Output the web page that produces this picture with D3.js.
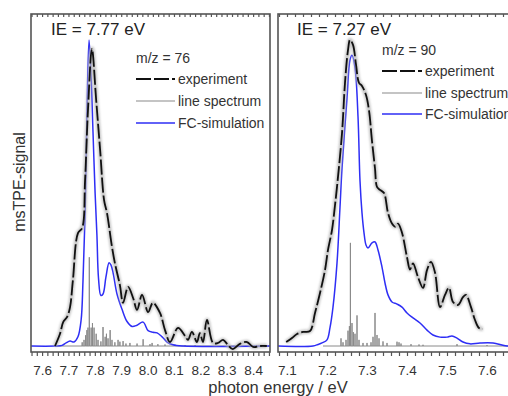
<!DOCTYPE html>
<html>
<head>
<meta charset="utf-8">
<script src="https://cdn.jsdelivr.net/npm/d3@7"></script>
<style>
  html, body { margin: 0; padding: 0; background: #fff; }
  svg { display: block; font-family: "Liberation Sans", Arial, sans-serif; }
</style>
</head>
<body>
<svg id="chart" width="508" height="396"></svg>
<script>
// ---- data: m/z = 76 (left panel) ----
const ie76 = "IE = 7.77 eV";
const mz76 = "m/z = 76";
const ticks76 = [7.6, 7.7, 7.8, 7.9, 8.0, 8.1, 8.2, 8.3, 8.4];
const exp76 = [
  [7.649, 0], [7.668, 0.04], [7.680, 0.078], [7.695, 0.095], [7.706, 0.127],
  [7.717, 0.216], [7.736, 0.369], [7.752, 0.386], [7.763, 0.542], [7.774, 0.771],
  [7.789, 0.971], [7.805, 0.804], [7.820, 0.641], [7.835, 0.477], [7.846, 0.435],
  [7.865, 0.324], [7.876, 0.271], [7.895, 0.199], [7.907, 0.141], [7.926, 0.193],
  [7.945, 0.157], [7.960, 0.118], [7.979, 0.167], [8.002, 0.111], [8.020, 0.141],
  [8.047, 0.108], [8.066, 0.052], [8.085, 0.013], [8.115, 0.059], [8.142, 0.033],
  [8.153, 0.020], [8.168, 0.046], [8.187, 0.013], [8.198, 0.042], [8.210, 0.013],
  [8.225, 0.085], [8.248, 0.010], [8.267, 0.010], [8.286, 0.020], [8.305, 0.003],
  [8.323, -0.010], [8.350, 0.007], [8.377, 0.013], [8.400, -0.003], [8.426, 0],
  [8.452, 0]
];
const fc76 = [
  [7.55, 0], [7.649, 0], [7.676, 0.002], [7.691, 0.01], [7.706, 0.016], [7.721, 0.013],
  [7.736, 0.03], [7.748, 0.085], [7.755, 0.21], [7.763, 0.43], [7.770, 0.75],
  [7.778, 1.0], [7.786, 0.88], [7.793, 0.70], [7.801, 0.50], [7.808, 0.36],
  [7.814, 0.22], [7.823, 0.165], [7.831, 0.17], [7.842, 0.225], [7.854, 0.272],
  [7.861, 0.265], [7.869, 0.24], [7.884, 0.17], [7.903, 0.12], [7.922, 0.08],
  [7.941, 0.064], [7.960, 0.068], [7.983, 0.078], [8.002, 0.05], [8.020, 0.045],
  [8.036, 0.043], [8.055, 0.03], [8.074, 0.013], [8.096, 0.004], [8.134, 0],
  [8.47, 0]
];
const sticks76 = [
  [7.752, 0.012], [7.759, 0.02], [7.765, 0.035], [7.770, 0.052], [7.774, 0.06],
  [7.779, 0.29], [7.786, 0.06], [7.791, 0.075], [7.797, 0.06], [7.805, 0.04],
  [7.812, 0.02], [7.823, 0.015], [7.831, 0.062], [7.839, 0.03], [7.844, 0.04],
  [7.850, 0.025], [7.858, 0.052], [7.865, 0.02], [7.876, 0.012], [7.888, 0.02],
  [7.895, 0.014], [7.907, 0.016], [7.918, 0.008], [7.933, 0.01], [7.960, 0.008],
  [7.983, 0.022], [8.009, 0.006], [8.017, 0.01], [8.039, 0.006], [8.066, 0.005],
  [8.104, 0.004], [8.142, 0.003], [8.180, 0.003]
];
const span76 = [7.65, 8.47];

// ---- data: m/z = 90 (right panel) ----
const ie90 = "IE = 7.27 eV";
const mz90 = "m/z = 90";
const ticks90 = [7.1, 7.2, 7.3, 7.4, 7.5, 7.6];
const exp90 = [
  [7.098, 0.013], [7.1125, 0.026], [7.125, 0.039], [7.14, 0.046], [7.1575, 0.049],
  [7.17, 0.108], [7.1825, 0.173], [7.195, 0.248], [7.2025, 0.314], [7.2125, 0.379],
  [7.22, 0.46], [7.225, 0.52], [7.2375, 0.695], [7.245, 0.86], [7.2525, 0.967],
  [7.2575, 1.0], [7.265, 0.984], [7.2725, 0.92], [7.28, 0.86], [7.2875, 0.85],
  [7.2975, 0.82], [7.305, 0.77], [7.3125, 0.67], [7.32, 0.58], [7.325, 0.52],
  [7.3325, 0.51], [7.3425, 0.50], [7.3525, 0.435], [7.3625, 0.40], [7.37, 0.39],
  [7.3775, 0.40], [7.3875, 0.37], [7.40, 0.29], [7.4075, 0.25], [7.415, 0.27],
  [7.4275, 0.225], [7.44, 0.19], [7.45, 0.248], [7.46, 0.275], [7.47, 0.24],
  [7.4825, 0.127], [7.495, 0.167], [7.505, 0.19], [7.515, 0.144], [7.5275, 0.134],
  [7.54, 0.16], [7.5475, 0.167], [7.56, 0.127], [7.57, 0.085], [7.58, 0.059],
  [7.59, 0.056]
];
const fc90 = [
  [7.07, 0], [7.165, 0], [7.1775, 0.005], [7.1875, 0.01], [7.20, 0.02], [7.2075, 0.06],
  [7.215, 0.127], [7.225, 0.271], [7.2325, 0.454], [7.2375, 0.58], [7.25, 0.81],
  [7.2575, 0.935], [7.2625, 0.95], [7.27, 0.91], [7.2775, 0.75], [7.2825, 0.54],
  [7.2875, 0.435], [7.2925, 0.37], [7.2975, 0.33], [7.3025, 0.32], [7.3125, 0.337],
  [7.32, 0.34], [7.3275, 0.314], [7.3375, 0.258], [7.345, 0.206], [7.3525, 0.167],
  [7.3625, 0.144], [7.375, 0.137], [7.3875, 0.127], [7.40, 0.108], [7.415, 0.092],
  [7.4325, 0.075], [7.45, 0.052], [7.465, 0.036], [7.4825, 0.029], [7.50, 0.029],
  [7.5125, 0.033], [7.525, 0.026], [7.54, 0.013], [7.5575, 0.007], [7.5825, 0.01],
  [7.615, 0.01], [7.65, 0], [7.69, 0]
];
const sticks90 = [
  [7.235, 0.025], [7.24, 0.012], [7.2475, 0.02], [7.2525, 0.05], [7.256, 0.065],
  [7.2585, 0.337], [7.2625, 0.075], [7.266, 0.045], [7.27, 0.04], [7.275, 0.10],
  [7.28, 0.02], [7.29, 0.01], [7.30, 0.01], [7.31, 0.012], [7.315, 0.03],
  [7.32, 0.108], [7.325, 0.036], [7.33, 0.025], [7.34, 0.015], [7.35, 0.01],
  [7.375, 0.014], [7.38, 0.012], [7.385, 0.008], [7.41, 0.006], [7.43, 0.005],
  [7.44, 0.004], [7.525, 0.006], [7.60, 0.003]
];
const span90 = [7.19, 7.69];

const legendLabels = ["experiment", "line spectrum", "FC-simulation"];
const xTitle = "photon energy / eV";
const yTitle = "msTPE-signal";

// ---- styling ----
const frameColor = "#555";
const textColor = "#333";
const blue = "#2e2ef5";
const stickGray = "#8a8a8a";

const svg = d3.select("#chart");
const defs = svg.append("defs");
defs.append("filter").attr("id", "soft")
  .append("feGaussianBlur").attr("stdDeviation", 1.1);

const yTop = 14, yBottom = 352;
const y = d3.scaleLinear().domain([0, 1]).range([346, 40]);

const panels = [
  {
    id: "p76", x: d3.scaleLinear().domain([7.558, 8.464]).range([31, 270]),
    ticks: ticks76, exp: exp76, fc: fc76, sticks: sticks76, span: span76,
    ie: ie76, ieX: 51, mz: mz76, legX: 136, legY: 63, legRows: [79, 101, 123], legLen: 39
  },
  {
    id: "p90", x: d3.scaleLinear().domain([7.0775, 7.6775]).range([278, 518]),
    ticks: ticks90, exp: exp90, fc: fc90, sticks: sticks90, span: span90,
    ie: ie90, ieX: 297, mz: mz90, legX: 382, legY: 55, legRows: [71, 93, 114], legLen: 40
  }
];

panels.forEach(p => {
  const [x0, x1] = p.x.range();
  const g = svg.append("g");

  defs.append("clipPath").attr("id", "clip-" + p.id)
    .append("rect").attr("x", x0).attr("y", yTop).attr("width", x1 - x0).attr("height", yBottom - yTop);

  const plot = g.append("g").attr("clip-path", `url(#clip-${p.id})`);

  // line spectrum: a baseline with vertical sticks
  const stickPts = [[p.span[0], 0]];
  p.sticks.forEach(([e, h]) => { stickPts.push([e, 0], [e, h], [e, 0]); });
  stickPts.push([p.span[1], 0]);
  plot.append("path")
    .attr("d", d3.line().x(d => p.x(d[0])).y(d => y(d[1]))(stickPts))
    .attr("fill", "none").attr("stroke", stickGray).attr("stroke-width", 1);

  const smooth = d3.line().x(d => p.x(d[0])).y(d => y(d[1])).curve(d3.curveCatmullRom.alpha(0.5));

  // FC simulation
  plot.append("path").attr("d", smooth(p.fc))
    .attr("fill", "none").attr("stroke", blue).attr("stroke-width", 1.5);

  // experiment: soft grey halo under a dashed black trace
  plot.append("path").attr("d", smooth(p.exp))
    .attr("fill", "none").attr("stroke", "#b5b5b5").attr("stroke-width", 4.5)
    .attr("stroke-linejoin", "round").attr("filter", "url(#soft)").attr("opacity", 0.75);
  plot.append("path").attr("d", smooth(p.exp))
    .attr("fill", "none").attr("stroke", "#111").attr("stroke-width", 1.8)
    .attr("stroke-dasharray", "15,3").attr("stroke-linejoin", "round");

  // frame
  g.append("rect").attr("x", x0).attr("y", yTop).attr("width", x1 - x0).attr("height", yBottom - yTop)
    .attr("fill", "none").attr("stroke", frameColor).attr("stroke-width", 1.6);

  // bottom axis (ticks outward) and top mirror ticks (inward)
  const minor = d3.range(Math.round(p.x.domain()[0] * 50), Math.round(p.x.domain()[1] * 50) + 1)
    .map(k => k / 50).filter(v => v >= p.x.domain()[0] && v <= p.x.domain()[1]);
  const gb = g.append("g").attr("transform", `translate(0,${yBottom})`)
    .call(d3.axisBottom(p.x).tickValues(minor).tickSize(4).tickFormat(""));
  gb.select(".domain").remove();
  gb.selectAll("line").attr("stroke", frameColor).attr("stroke-width", 1.2);

  const gt = g.append("g").attr("transform", `translate(0,${yTop})`)
    .call(d3.axisBottom(p.x).tickValues(minor).tickSize(3).tickFormat(""));
  gt.select(".domain").remove();
  gt.selectAll("line").attr("stroke", frameColor).attr("stroke-width", 1.2);

  const gl = g.append("g").attr("transform", `translate(0,${yBottom})`)
    .call(d3.axisBottom(p.x).tickValues(p.ticks).tickSize(0).tickPadding(0).tickFormat(d3.format(".1f")));
  gl.select(".domain").remove();
  gl.selectAll("text").attr("y", 23).attr("dy", null)
    .attr("font-size", 13.5).attr("fill", textColor)
    .attr("font-family", "'Liberation Sans', Arial, sans-serif");

  // ionization energy label
  g.append("text").attr("x", p.ieX).attr("y", 35).text(p.ie)
    .attr("font-size", 17).attr("fill", "#222");

  // legend
  g.append("text").attr("x", p.legX).attr("y", p.legY).text(p.mz)
    .attr("font-size", 14).attr("fill", textColor);
  const styles = [
    { stroke: "#111", w: 1.8, dash: "15,3" },
    { stroke: stickGray, w: 1.2, dash: null },
    { stroke: blue, w: 1.5, dash: null }
  ];
  legendLabels.forEach((lab, i) => {
    const ly = p.legRows[i];
    g.append("line").attr("x1", p.legX).attr("x2", p.legX + p.legLen).attr("y1", ly).attr("y2", ly)
      .attr("stroke", styles[i].stroke).attr("stroke-width", styles[i].w)
      .attr("stroke-dasharray", styles[i].dash);
    g.append("text").attr("x", p.legX + p.legLen + 3).attr("y", ly + 5).text(lab)
      .attr("font-size", 14).attr("fill", textColor);
  });
});

// axis titles
svg.append("text").attr("x", 278).attr("y", 393).attr("text-anchor", "middle")
  .attr("font-size", 16.5).attr("fill", textColor).text(xTitle);
svg.append("text").attr("transform", "translate(25,182) rotate(-90)").attr("text-anchor", "middle")
  .attr("font-size", 16).attr("fill", textColor).text(yTitle);
</script>
</body>
</html>
